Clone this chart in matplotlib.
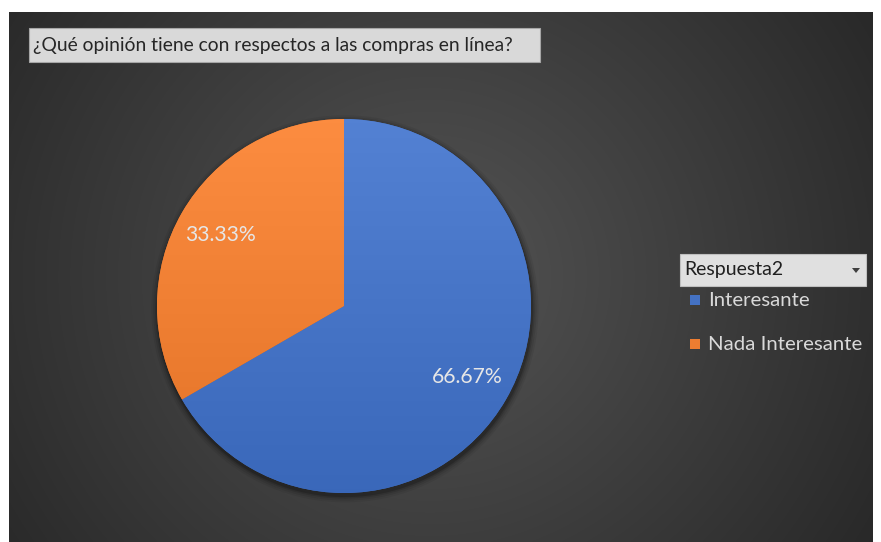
import numpy as np
import matplotlib
matplotlib.use("Agg")
import matplotlib.pyplot as plt
from matplotlib.patches import Rectangle, Circle, Polygon

categories = ["Interesante", "Nada Interesante"]
values = [66.67, 33.33]
colors = ["#4472C4", "#ED7D31"]
title = "¿Qué opinión tiene con respectos a las compras en línea?"
legend_title = "Respuesta2"

W, H = 881, 542
fig = plt.figure(figsize=(W / 100, H / 100), dpi=100)
fig.patch.set_facecolor("white")

def fx(px):
    return px / W

def fy(py):
    return 1 - py / H

# Background with radial gradient
bx0, bx1, by0, by1 = 9, 873, 12, 542
bg = fig.add_axes([fx(bx0), fy(by1), fx(bx1 - bx0), (by1 - by0) / H])
bg.set_axis_off()
nx, ny = 400, 250
xx, yy = np.meshgrid(np.linspace(-1, 1, nx), np.linspace(-1, 1, ny))
cx = (430 - bx0) / (bx1 - bx0) * 2 - 1
rr = np.sqrt(((xx - cx) / 1.0) ** 2 + ((yy - 0.0) / 1.6) ** 2)
val = 0.33 - 0.17 * np.clip(rr, 0, 1.2) / 1.2
img = np.dstack([val, val, val])
bg.imshow(img, aspect="auto", extent=[0, 1, 0, 1], interpolation="bilinear")
bg.set_xlim(0, 1)
bg.set_ylim(0, 1)

# Pie axes: center (344, 306), radius 187 px
pcx, pcy, R = 344, 306, 187
half = 215
ax = fig.add_axes([fx(pcx - half), fy(pcy + half), 2 * half / W, 2 * half / H])
ax.set_axis_off()
lim = half / R

# soft shadow
for r, a in [(1.035, 0.06), (1.025, 0.08), (1.015, 0.12), (1.007, 0.18)]:
    ax.add_patch(Circle((0.005, -0.015), r, color="black", alpha=a, lw=0, zorder=0))

wedges, texts, autotexts = ax.pie(
    values, colors=colors, startangle=90, counterclock=False,
    autopct="%.2f%%", pctdistance=0.76, radius=1,
    wedgeprops=dict(linewidth=0), textprops=dict(color="#e6e6e6", fontsize=15.2,
                                                 family="Lato"))
ax.set_aspect("auto")

# gradient overlay per wedge
gy = np.linspace(0, 1, 200).reshape(-1, 1)
for w, c in zip(wedges, colors):
    base = np.array(matplotlib.colors.to_rgb(c))
    light = np.clip(base + 0.06, 0, 1)
    dark = np.clip(base - 0.04, 0, 1)
    grad = dark[None, None, :] * (1 - gy[..., None]) + light[None, None, :] * gy[..., None]
    im = ax.imshow(grad, extent=[-1, 1, -1, 1], origin="lower", aspect="auto",
                   interpolation="bilinear", zorder=w.get_zorder() + 0.1)
    im.set_clip_path(w)
for t in autotexts:
    t.set_zorder(10)
ax.set_xlim(-lim, lim)
ax.set_ylim(-lim, lim)

# Title box
tb = Rectangle((fx(29), fy(62)), fx(540 - 29), (62 - 28) / H, transform=fig.transFigure,
               facecolor="#d9d9d9", edgecolor="#a6a6a6", lw=0.8)
fig.patches.append(tb)
fig.text(fx(33), fy(45), title, fontsize=13.9, color="#262626", va="center", ha="left",
         family="Lato")

# Legend
lb = Rectangle((fx(680), fy(286)), fx(866 - 680), (286 - 254) / H, transform=fig.transFigure,
               facecolor="#e0e0e0", edgecolor="#bfbfbf", lw=0.8)
fig.patches.append(lb)
fig.text(fx(684), fy(270), legend_title, fontsize=14, color="#1f1f1f", va="center", ha="left",
         family="Lato")
arrow = Polygon([[fx(852), fy(268)], [fx(860), fy(268)], [fx(856), fy(273)]],
                closed=True, transform=fig.transFigure, facecolor="#404040", edgecolor="none")
fig.patches.append(arrow)

item_y = [300, 344]
for cat, c, y in zip(categories, colors, item_y):
    sq = Rectangle((fx(690), fy(y + 5)), fx(10), 10 / H, transform=fig.transFigure,
                   facecolor=c, edgecolor="none")
    fig.patches.append(sq)
    fig.text(fx(708), fy(y), cat, fontsize=14.7, color="#d9d9d9", va="center", ha="left",
             family="Lato")

fig.savefig("out.png", dpi=100, facecolor=fig.get_facecolor())
